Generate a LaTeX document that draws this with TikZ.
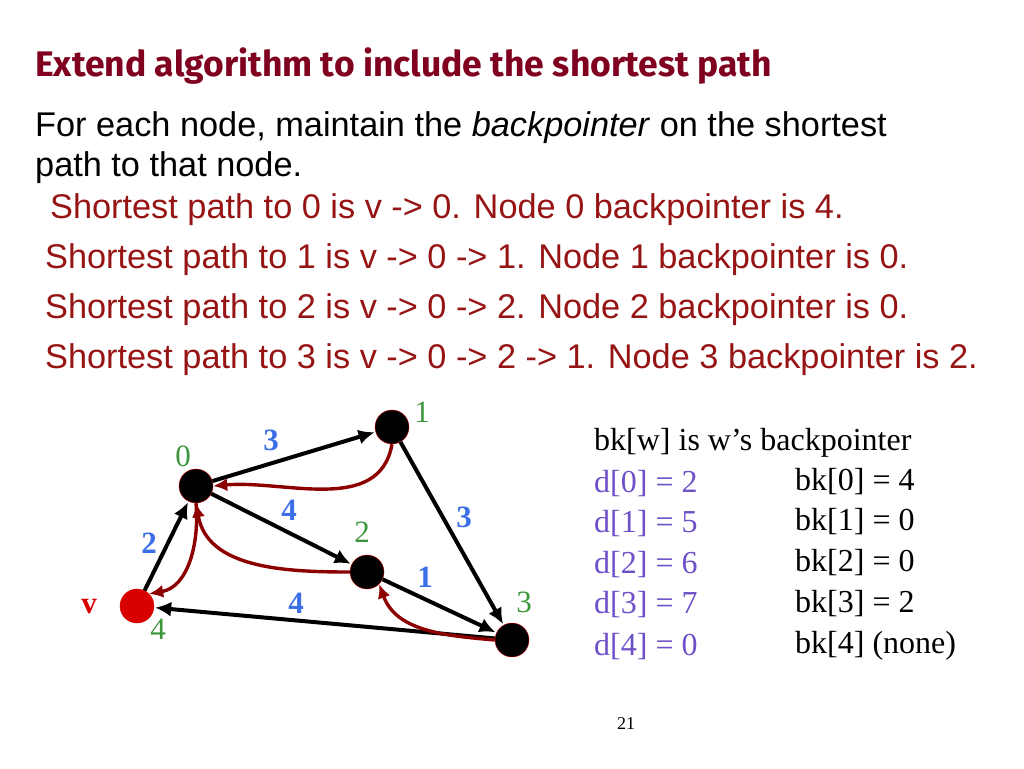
\documentclass[tikz,border=0pt]{standalone}
\usepackage{fontspec}
\setmainfont{Liberation Serif}
\newfontfamily\arialf{Liberation Sans}
\newfontfamily\titlef{Fira Sans}
\usetikzlibrary{arrows.meta}
\definecolor{ttl}{RGB}{128,0,32}
\definecolor{rd}{RGB}{150,20,20}
\definecolor{dr}{RGB}{140,0,0}
\definecolor{gr}{RGB}{60,150,60}
\definecolor{bl}{RGB}{60,110,230}
\definecolor{pu}{RGB}{110,80,200}
\tikzset{x=1pt,y=-1pt,
 vtx/.style={circle,fill=black,draw=red!80!black,inner sep=0,minimum size=34pt},
 blk/.style={line width=4pt,-{Latex[length=16pt,width=15pt]},shorten >=1pt},
 bp/.style={line width=3.4pt,dr,-{Latex[length=14pt,width=13pt]}},
 lab/.style={gr,font=\fontsize{31}{32}\selectfont,anchor=base},
 wt/.style={bl,font=\fontsize{31}{32}\selectfont\bfseries,anchor=base},
 txt/.style={anchor=base west,inner sep=0,font=\arialf\fontsize{34.3}{35}\selectfont},
 rt/.style={anchor=base west,inner sep=0,font=\fontsize{32}{33}\selectfont}}
\begin{document}
\begin{tikzpicture}
\useasboundingbox (0,0) rectangle (1024,768);
\node[anchor=base west,inner sep=0,ttl,font=\titlef\fontseries{sb}\fontsize{35.5}{36}\selectfont] (title) at (35,77) {Extend algorithm to include the shortest path};
\node[txt] (l1) at (35,136) {For each node, maintain the \textit{backpointer} on the shortest};
\node[txt] (l2) at (35,176) {path to that node.};
\node[txt,rd] (r0) at (50,218) {Shortest path to 0 is v -> 0. Node 0 backpointer is 4.};
\node[txt,rd] (r1) at (45,268) {Shortest path to 1 is v -> 0 -> 1. Node 1 backpointer is 0.};
\node[txt,rd] (r2) at (45,318) {Shortest path to 2 is v -> 0 -> 2. Node 2 backpointer is 0.};
\node[txt,rd] (r3) at (45,368) {Shortest path to 3 is v -> 0 -> 2 -> 1. Node 3 backpointer is 2.};
% graph
\node[vtx] (n0) at (196,486) {};
\node[vtx] (n1) at (392,427) {};
\node[vtx] (n2) at (367,572) {};
\node[vtx] (n3) at (512,640) {};
\node[vtx,fill=red!85!black,draw=red!85!black] (nv) at (137,606) {};
\draw[blk] (n0) -- (n1);
\draw[blk] (n0) -- (n2);
\draw[blk] (n2) -- (n3);
\draw[blk] (n1) -- (n3);
\draw[blk] (nv) -- (n0);
\draw[blk] (n3) -- (nv);
\draw[bp] (n1.south) to[out=-100,in=5] (n0.east);
\draw[bp] (n2.west) to[out=180,in=-80] (n0.south);
\draw[bp] (n0.south) to[out=-85,in=10] (nv.north east);
\draw[bp] (n3.west) to[out=175,in=-70] (n2.south east);
\node[lab] (g1) at (422,422) {1};
\node[lab] (g0) at (183,466) {0};
\node[lab] (g2) at (362,542) {2};
\node[lab] (g3) at (524,612) {3};
\node[lab] (g4) at (158,639) {4};
\node[anchor=base,red!85!black,font=\fontsize{31}{32}\selectfont\bfseries] (vl) at (89,613) {v};
\node[wt] (w01) at (271,450) {3};
\node[wt] (w02) at (289,520) {4};
\node[wt] (w13) at (464,527) {3};
\node[wt] (wv0) at (149,553) {2};
\node[wt] (w23) at (425,587) {1};
\node[wt] (w3v) at (296,613) {4};
% tables
\node[rt] (bk) at (594,450) {bk[w] is w’s backpointer};
\node[rt,pu] (d0) at (594,492) {d[0] = 2};
\node[rt,pu] (d1) at (594,532) {d[1] = 5};
\node[rt,pu] (d2) at (594,573) {d[2] = 6};
\node[rt,pu] (d3) at (594,613) {d[3] = 7};
\node[rt,pu] (d4) at (594,655) {d[4] = 0};
\node[rt] (b0) at (795,490) {bk[0] = 4};
\node[rt] (b1) at (795,530) {bk[1] = 0};
\node[rt] (b2) at (795,571) {bk[2] = 0};
\node[rt] (b3) at (795,612) {bk[3] = 2};
\node[rt] (b4) at (795,653) {bk[4] (none)};
\node[anchor=base,font=\fontsize{18}{19}\selectfont] (pg) at (626,729) {21};
\end{tikzpicture}
\end{document}
